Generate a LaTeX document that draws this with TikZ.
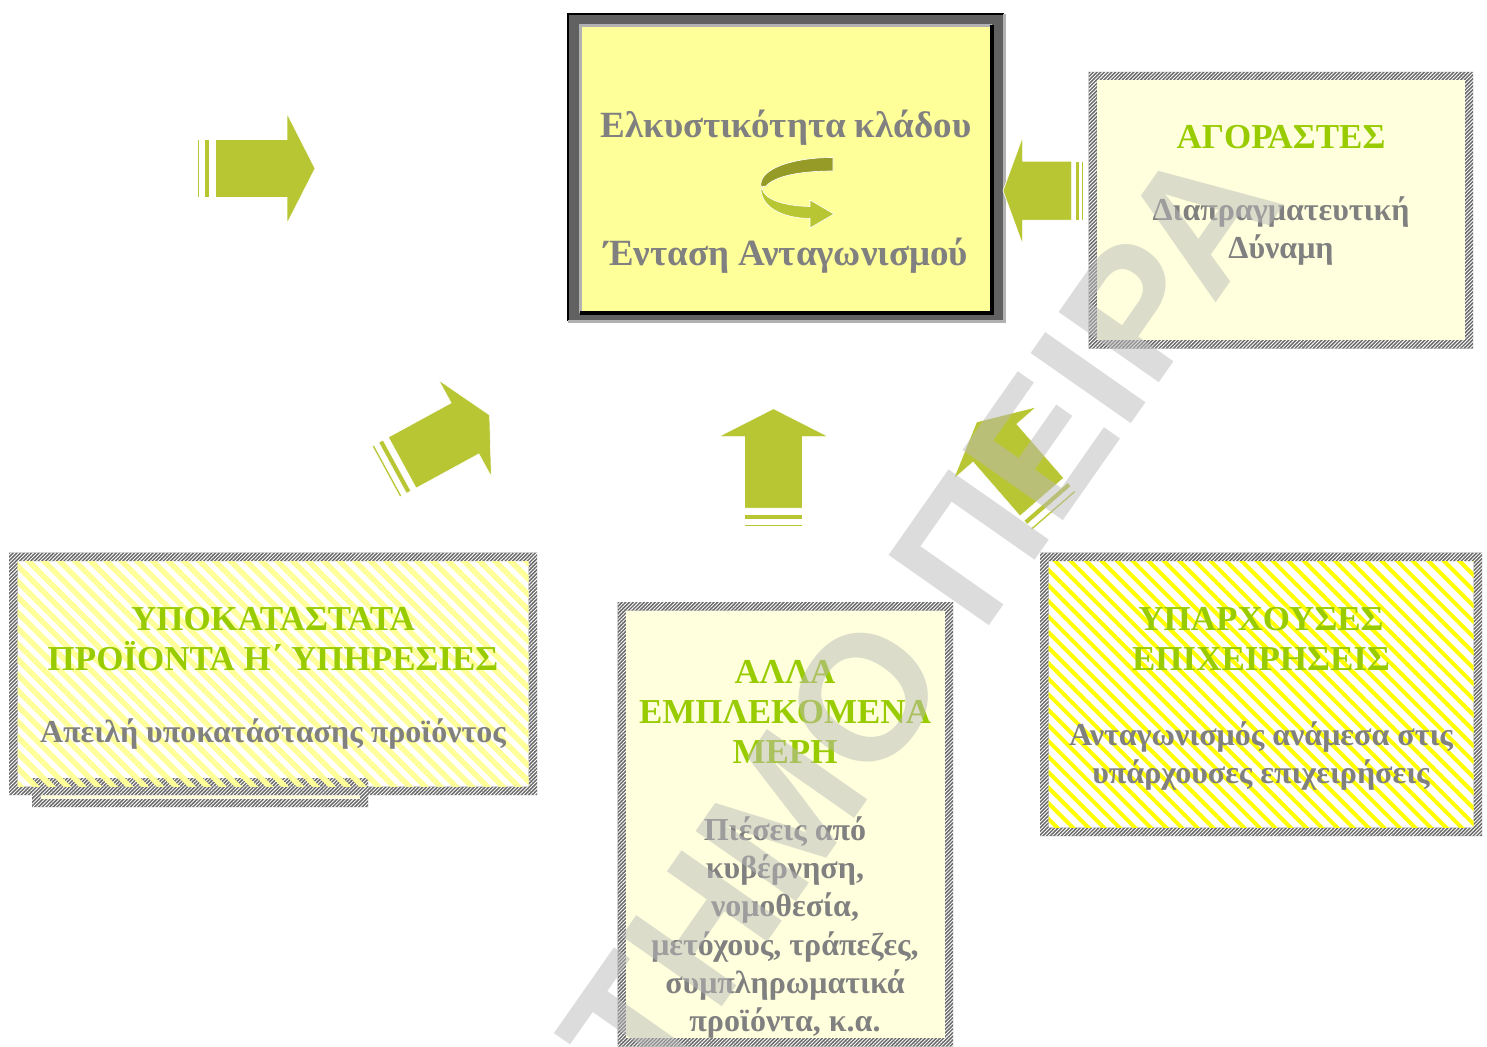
\documentclass[tikz,border=0pt]{standalone}
\usepackage{fontspec}
\setmainfont{Liberation Serif}
\newfontfamily\wmfont{Liberation Sans}
\usetikzlibrary{patterns.meta}

\definecolor{arrowGreen}{RGB}{185, 198, 52}
\definecolor{ribbonDark}{RGB}{150, 155, 40}
\definecolor{headGreen}{RGB}{153, 204, 0}
\definecolor{textGray}{RGB}{128, 128, 128}
\definecolor{paleYellow}{RGB}{255, 255, 153}
\definecolor{lemonYellow}{RGB}{255, 255, 0}
\definecolor{creamFill}{RGB}{255, 255, 221}
\definecolor{frameGray}{RGB}{105, 105, 105}

% Rahmen mit Schraffur: x1, y1, x2, y2, Füllung
\newcommand{\hatchbox}[5]{%
  \fill [frameGray, even odd rule] (#1, #2) rectangle (#3, #4) ({#1+8.5}, {#2+8.5}) rectangle ({#3-8.5}, {#4-8.5});
  \path [even odd rule, pattern = {Lines[angle = 45, distance = 2.6pt, line width = 0.9pt]}, pattern color = white]
    (#1, #2) rectangle (#3, #4) ({#1+8.5}, {#2+8.5}) rectangle ({#3-8.5}, {#4-8.5});
  \path [#5] ({#1+8.5}, {#2+8.5}) rectangle ({#3-8.5}, {#4-8.5});}
% Pfeil mit Streifen: x, y (Ende), Winkel
\newcommand{\stripearrow}[3]{%
  \begin{scope}[shift = {(#1, #2)}, rotate = #3]
    \filldraw [draw = white, fill = arrowGreen, line width = 0.6pt] (0, -29) rectangle (2.2, 29);
    \filldraw [draw = white, fill = arrowGreen, line width = 0.6pt] (7.5, -29) rectangle (12.5, 29);
    \filldraw [draw = white, fill = arrowGreen, line width = 0.6pt] (18.5, -29) -- (90, -29) -- (90, -55) -- (118, 0)
      -- (90, 55) -- (90, 29) -- (18.5, 29) -- cycle;
  \end{scope}}

\begin{document}
\begin{tikzpicture}[x = 1pt, y = -1pt,
    headtxt/.style = {text = headGreen, font = \fontsize{35}{40}\selectfont\bfseries, align = center, inner sep = 0pt, anchor = base},
    graytxt/.style = {text = textGray, font = \fontsize{32}{38.3}\selectfont\bfseries, align = center, inner sep = 0pt, anchor = base},
    titletxt/.style = {text = textGray, font = \fontsize{37}{40}\selectfont\bfseries, inner sep = 0pt, anchor = base}]
  % Rand
  \useasboundingbox (0, 0) rectangle (1487, 1046);
  \clip (0, 0) rectangle (1487, 1046);
  % Mitte oben
  \fill [black!62] (568, 14) rectangle (1003, 321);
  \draw [black, line width = 2pt] (568, 321) -- (568, 14) -- (1004, 14);
  \draw [black!30, line width = 3pt] (568, 321.5) -- (1004, 321.5) -- (1004, 14);
  \fill [paleYellow] (580, 25) rectangle (992, 313);
  \draw [black!30, line width = 2.5pt] (580.5, 313) -- (580.5, 25.5) -- (992, 25.5);
  \draw [black, line width = 3.5pt] (580, 313) -- (992, 313) -- (992, 25);
  \node [titletxt] (title) at (786, 137.5) {Ελκυστικότητα κλάδου};
  \node [titletxt] (tension) at (786, 265) {Ένταση Ανταγωνισμού};
  \filldraw [draw = white, fill = ribbonDark, line width = 0.6pt] (833, 157.5) -- (833, 171)
    .. controls (800, 171) and (775, 176) .. (766, 186) -- (761, 187)
    .. controls (758, 168) and (795, 157.5) .. cycle;
  \filldraw [draw = white, fill = arrowGreen, line width = 0.6pt] (762, 188)
    .. controls (764, 200) and (785, 206) .. (810, 206.5) -- (810, 200) -- (834, 214) -- (810, 228) -- (810, 218.5)
    .. controls (780, 218) and (762, 206) .. (761, 190) -- cycle;
  % rechts oben
  \hatchbox{1088.5}{72}{1473}{348.5}{fill = creamFill}
  \node [headtxt] (buyers) at (1281, 148.5) {ΑΓΟΡΑΣΤΕΣ};
  \node [graytxt] (buyersTxt) at (1281, 258.3) {Διαπραγματευτική\\Δύναμη};
  % links unten
  \hatchbox{32}{778}{368}{807}{fill = creamFill}
  \hatchbox{9}{552.5}{537}{795}{pattern = {Lines[angle = -45, distance = 11pt, line width = 5.5pt]}, pattern color = paleYellow}
  \node [headtxt] (subst) at (273, 670) {ΥΠΟΚΑΤΑΣΤΑΤΑ\\ΠΡΟΪΟΝΤΑ Η΄ ΥΠΗΡΕΣΙΕΣ};
  \node [graytxt] (substTxt) at (273, 742) {Απειλή υποκατάστασης προϊόντος};
  % Mitte unten
  \hatchbox{617.5}{602}{953}{1046.5}{fill = creamFill}
  \node [headtxt] (others) at (785, 763) {ΑΛΛΑ\\ΕΜΠΛΕΚΟΜΕΝΑ\\ΜΕΡΗ};
  \node [graytxt] (othersTxt) at (785, 1031.7) {Πιέσεις από\\κυβέρνηση,\\νομοθεσία,\\μετόχους, τράπεζες,\\συμπληρωματικά\\προϊόντα, κ.α.};
  % rechts unten
  \hatchbox{1040}{552.5}{1482}{836}{pattern = {Lines[angle = -45, distance = 11pt, line width = 4pt]}, pattern color = lemonYellow}
  \node [headtxt] (rivals) at (1261, 670) {ΥΠΑΡΧΟΥΣΕΣ\\ΕΠΙΧΕΙΡΗΣΕΙΣ};
  \node [graytxt] (rivalsTxt) at (1261, 783.3) {Ανταγωνισμός ανάμεσα στις\\υπάρχουσες επιχειρήσεις};
  % Pfeile
  \stripearrow{197}{168.5}{0}
  \stripearrow{386}{471.5}{28.6}
  \stripearrow{773.5}{526.7}{90}
  \stripearrow{1054}{511}{131}
  \begin{scope}[shift = {(1083, 190.7)}, rotate = 180]
    \filldraw [draw = white, fill = arrowGreen, line width = 0.6pt] (0, -29.5) rectangle (1.4, 29.5);
    \filldraw [draw = white, fill = arrowGreen, line width = 0.6pt] (4, -29.5) rectangle (8, 29.5);
    \filldraw [draw = white, fill = arrowGreen, line width = 0.6pt] (11.3, -29.5) -- (60.3, -29.5) -- (60.3, -54) -- (80, 0)
      -- (60.3, 54) -- (60.3, 29.5) -- (11.3, 29.5) -- cycle;
  \end{scope}
  % Wasserzeichen
  \node [rotate = 55, text = black!27, text opacity = 0.5, font = \wmfont\fontsize{178}{178}\selectfont\bfseries, inner sep = 0pt]
    (watermark) at (920, 618) {ΤΗΜΟ ΠΕΙΡΑ};
\end{tikzpicture}
\end{document}
